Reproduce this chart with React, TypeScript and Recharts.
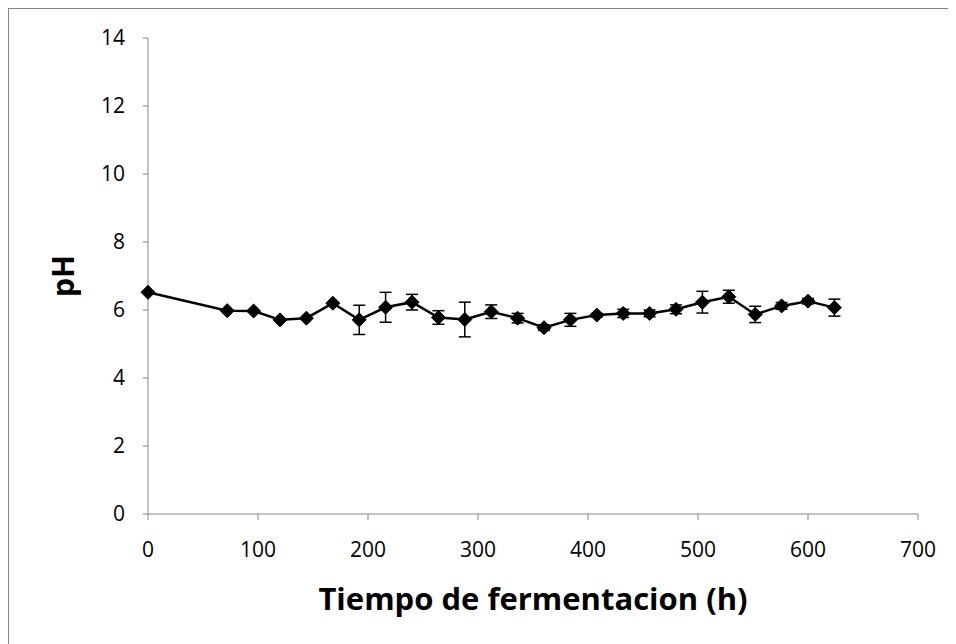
import React from "react";
import { ComposedChart, Line, XAxis, YAxis, ErrorBar, Label } from "recharts";

const hours = [0, 72, 96, 120, 144, 168, 192, 216, 240, 264, 288, 312, 336, 360, 384, 408, 432, 456, 480, 504, 528, 552, 576, 600, 624];
const phValues = [6.52, 5.98, 5.97, 5.71, 5.76, 6.2, 5.71, 6.08, 6.23, 5.78, 5.72, 5.95, 5.76, 5.48, 5.71, 5.85, 5.9, 5.9, 6.02, 6.23, 6.39, 5.87, 6.12, 6.26, 6.07];
const phErrors = [0, 0, 0, 0, 0, 0, 0.43, 0.44, 0.23, 0.2, 0.51, 0.2, 0.14, 0.08, 0.19, 0.05, 0.12, 0.1, 0.13, 0.32, 0.19, 0.24, 0.1, 0.08, 0.25];
const xTicks = [0, 100, 200, 300, 400, 500, 600, 700];
const yTicks = [0, 2, 4, 6, 8, 10, 12, 14];

const data = hours.map((h, i) => ({ h, ph: phValues[i], err: phErrors[i] }));

const FONT = "'Open Sans', 'Liberation Sans', sans-serif";
const AXIS = "#868686";

const Diamond = (props: any) => {
  const { cx, cy } = props;
  if (cx == null || cy == null) return null;
  const r = 7;
  return (
    <polygon
      points={`${cx},${cy - r} ${cx + r},${cy} ${cx},${cy + r} ${cx - r},${cy}`}
      fill="#000"
      stroke="#000"
    />
  );
};

export default function App() {
  return (
    <div
      style={{
        position: "relative",
        width: 948,
        height: 636,
        borderLeft: `1px solid ${AXIS}`,
        borderTop: `1px solid ${AXIS}`,
        boxSizing: "border-box",
        background: "#fff",
      }}
    >
      <div style={{ position: "absolute", left: -1, top: -1 }}>
        <ComposedChart
          width={940}
          height={620}
          data={data}
          margin={{ top: 30, right: 30, bottom: 84, left: 80 }}
        >
          <XAxis
            type="number"
            dataKey="h"
            domain={[0, 700]}
            ticks={xTicks}
            interval={0}
            height={30}
            stroke={AXIS}
            tickSize={6}
            tickMargin={22}
            tick={{ fill: "#000", fontSize: 21, fontFamily: FONT }}
            tickLine={{ stroke: AXIS }}
          >
            <Label
              value="Tiempo de fermentacion (h)"
              position="bottom"
              offset={44}
              style={{ fill: "#000", fontSize: 31, fontWeight: 700, fontFamily: FONT }}
            />
          </XAxis>
          <YAxis
            type="number"
            domain={[0, 14]}
            ticks={yTicks}
            interval={0}
            width={60}
            stroke={AXIS}
            tickSize={5}
            tickMargin={18}
            tick={{ fill: "#000", fontSize: 21, fontFamily: FONT }}
            tickLine={{ stroke: AXIS }}
          >
            <Label
              value="pH"
              angle={-90}
              position="left"
              offset={25}
              style={{ fill: "#000", fontSize: 30, fontWeight: 700, fontFamily: FONT, textAnchor: "middle" }}
            />
          </YAxis>
          <Line
            dataKey="ph"
            stroke="#000"
            strokeWidth={2.5}
            dot={<Diamond />}
            activeDot={false}
            isAnimationActive={false}
          >
            <ErrorBar dataKey="err" width={6} stroke="#000" strokeWidth={1.5} direction="y" />
          </Line>
        </ComposedChart>
      </div>
    </div>
  );
}
